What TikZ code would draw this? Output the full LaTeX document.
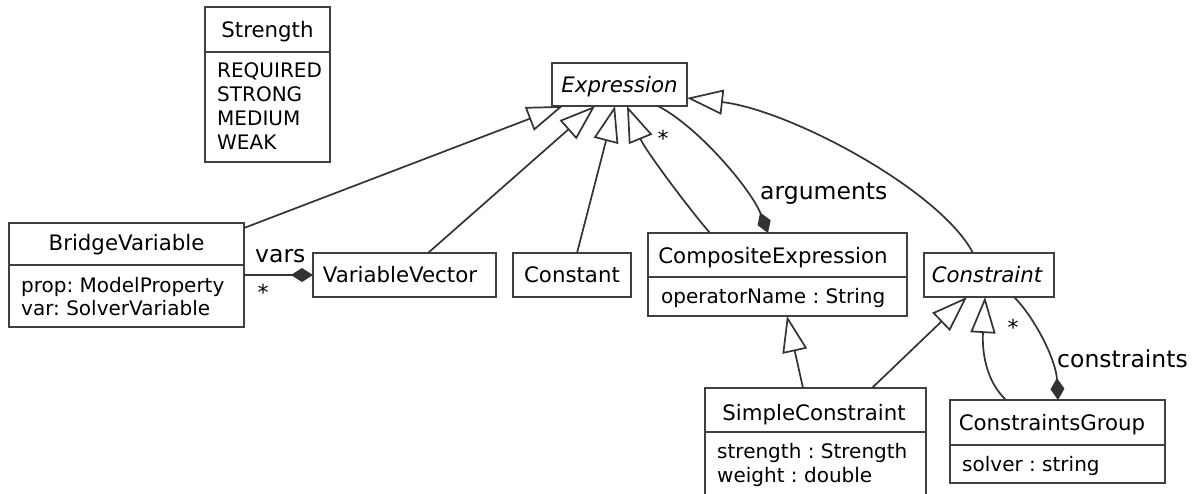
\documentclass[tikz,border=0pt]{standalone}
\usepackage{fontspec}
\setmainfont{DejaVu Sans}
\usetikzlibrary{arrows.meta,calc}
\frenchspacing

\definecolor{boxc}{HTML}{404040}
\definecolor{linec}{HTML}{333333}

\tikzset{
  umlbox/.style={draw=boxc, line width=2.7pt, fill=white, inner sep=0pt, outer sep=0pt, rectangle},
  divider/.style={draw=boxc, line width=2.7pt},
  clsname/.style={anchor=base, inner sep=0pt, font=\fontsize{21.3}{24}\selectfont},
  absname/.style={clsname, font=\fontsize{21.3}{24}\selectfont\itshape},
  attr/.style={anchor=base west, inner sep=0pt, font=\fontsize{20}{24}\selectfont},
  lbl/.style={anchor=base west, inner sep=0pt, font=\fontsize{23.5}{26}\selectfont},
  mult/.style={anchor=base, inner sep=0pt, font=\fontsize{22}{26}\selectfont},
  conn/.style={draw=linec, line width=1.7pt},
  inherit/.style={conn, -{Triangle[length=36pt, width=25pt, fill=white]}},
  compose/.style={conn, -{Diamond[length=22pt, width=14pt, fill=linec]}},
}

\begin{document}
\begin{tikzpicture}[x=1pt, y=-1pt]
\useasboundingbox (0,0) rectangle (1197,493);
\fill[white] (0,0) rectangle (1197,493);
\clip (0,0) rectangle (1197,493);

% ---- Strength enumeration ----
\node[umlbox, minimum width=125pt, minimum height=155pt] (strength) at (267.5,84.5) {};
\draw[divider] ([yshift=-45pt]strength.north west) -- ([yshift=-45pt]strength.north east);
\node[clsname] (strengthname) at (267.5,37) {Strength};
\node[attr] (sreq) at (217,77) {REQUIRED};
\node[attr] (sstr) at (217,101) {STRONG};
\node[attr] (smed) at (217,125) {MEDIUM};
\node[attr] (swk) at (217,149) {WEAK};

% ---- Expression (abstract) ----
\node[umlbox, minimum width=135pt, minimum height=43pt] (ex) at (619.5,84.5) {};
\node[absname] (exname) at (619.5,92) {Expression};

% ---- BridgeVariable ----
\node[umlbox, minimum width=235pt, minimum height=104pt] (bv) at (126.5,275) {};
\draw[divider] ([yshift=-42pt]bv.north west) -- ([yshift=-42pt]bv.north east);
\node[clsname] (bvname) at (126.5,250) {BridgeVariable};
\node[attr] (bvprop) at (21,292) {prop: ModelProperty};
\node[attr] (bvvar) at (21,315) {var: SolverVariable};

% ---- VariableVector ----
\node[umlbox, minimum width=183pt, minimum height=44pt] (vv) at (404.5,275) {};
\node[clsname] (vvname) at (400,282) {VariableVector};

% ---- Constant ----
\node[umlbox, minimum width=118pt, minimum height=44pt] (const) at (572,275) {};
\node[clsname] (constname) at (572,282) {Constant};

% ---- CompositeExpression ----
\node[umlbox, minimum width=259pt, minimum height=83pt] (ce) at (777.5,274.5) {};
\draw[divider] ([yshift=-44pt]ce.north west) -- ([yshift=-44pt]ce.north east);
\node[clsname] (cename) at (773,263) {CompositeExpression};
\node[attr] (ceop) at (661,303) {operatorName : String};

% ---- Constraint (abstract) ----
\node[umlbox, minimum width=130pt, minimum height=44pt] (cons) at (989,275) {};
\node[absname] (consname) at (987,282) {Constraint};

% ---- SimpleConstraint ----
\node[umlbox, minimum width=221pt, minimum height=124pt] (sc) at (815.5,450) {};
\draw[divider] ([yshift=-44pt]sc.north west) -- ([yshift=-44pt]sc.north east);
\node[clsname] (scname) at (814,420) {SimpleConstraint};
\node[attr] (scstr) at (717,458) {strength : Strength};
\node[attr] (scw) at (717,482) {weight : double};

% ---- ConstraintsGroup ----
\node[umlbox, minimum width=215pt, minimum height=83pt] (cg) at (1057.5,441.5) {};
\draw[divider] ([yshift=-45pt]cg.north west) -- ([yshift=-45pt]cg.north east);
\node[clsname] (cgname) at (1052,430) {ConstraintsGroup};
\node[attr] (cgsolver) at (962,471) {solver : string};

% ---- generalizations ----
\draw[inherit] ([yshift=-5pt]bv.north east) -- ([xshift=11pt]ex.south west);
\draw[inherit] ([xshift=23.5pt]vv.north) -- ([xshift=43pt]ex.south west);
\draw[inherit] ([xshift=5pt]const.north) -- ([xshift=63pt]ex.south west);
\draw[inherit] ([xshift=62pt]ce.north west) .. controls (690,210) and (645,150) .. ([xshift=75pt]ex.south west);
\draw[inherit] ([xshift=49pt]cons.north west) .. controls (940,190) and (790,110) .. ([yshift=8pt]ex.south east);
\draw[inherit] ([xshift=98pt]sc.north west) -- ([xshift=139pt]ce.south west);
\draw[inherit] ([xshift=167pt]sc.north west) -- ([xshift=43pt]cons.south west);
\draw[inherit] ([xshift=56pt]cg.north west) .. controls (985,380) and (982,350) .. ([xshift=61pt]cons.south west);

% ---- compositions ----
\draw[compose] (bv.east) -- (vv.west);
\draw[compose] ([xshift=106pt]ex.south west) .. controls (700,128) and (752,191) .. ([xshift=120pt]ce.north west);
\draw[compose] ([xshift=90pt]cons.south west) .. controls (1035,318) and (1056,360) .. ([xshift=108pt]cg.north west);

% ---- role names and multiplicities ----
\node[lbl] (varslbl) at (255,262) {vars};
\node[mult] (varsmult) at (263,300) {*};
\node[lbl] (arglbl) at (760,199) {arguments};
\node[mult] (argmult) at (663,146) {*};
\node[lbl] (conslbl) at (1057,367) {constraints};
\node[mult] (consmult) at (1013,335) {*};
\end{tikzpicture}
\end{document}
